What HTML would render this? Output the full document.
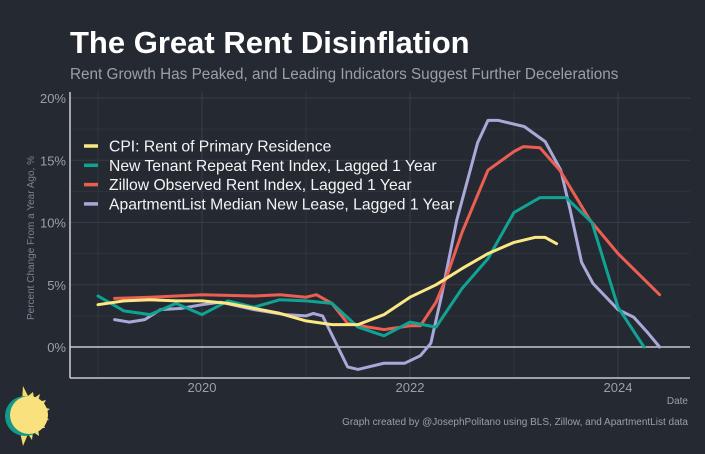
<!DOCTYPE html>
<html><head><meta charset="utf-8"><style>
body{margin:0;background:#252a32;}
svg{display:block;font-family:"Liberation Sans",sans-serif;}
</style></head><body>
<svg id="chart" width="705" height="454" viewBox="0 0 705 454">
<rect width="705" height="454" fill="#252a32"/>
<text x="70" y="53" font-size="31" font-weight="bold" fill="#ffffff">The Great Rent Disinflation</text>
<text x="70" y="79" font-size="15.3" fill="#9aa0a8">Rent Growth Has Peaked, and Leading Indicators Suggest Further Decelerations</text>
<g id="grid"></g>
<g id="axes"></g>
<g id="series"></g>
<g id="legend"></g>
<text x="34" y="238" font-size="10" fill="#7d838c" transform="rotate(-90 34 238)" text-anchor="middle">Percent Change From a Year Ago, %</text>
<text x="688" y="404" font-size="10" fill="#9aa0a8" text-anchor="end">Date</text>
<text x="688" y="425" font-size="10" fill="#9aa0a8" text-anchor="end">Graph created by @JosephPolitano using BLS, Zillow, and ApartmentList data</text>
<g>
<polygon points="23,386 28,396 33,392 34,398 40,394 38,402 46,400 42,407 50,409 43,414 49,420 42,421 45,428 38,428 39,436 33,432 32,440 28,434 23,446 20,432" fill="#f2dc6a"/>
<circle cx="25" cy="416" r="20" fill="#13988a"/>
<circle cx="29" cy="415" r="19" fill="#f9e27e"/>
</g>
</svg>
<script>
const yTicks=[0,5,10,15,20];
const yLabels=["0%","5%","10%","15%","20%"];
const xTicks=[2020,2022,2024];
const xLabels=["2020","2022","2024"];
const names=["CPI: Rent of Primary Residence","New Tenant Repeat Rent Index, Lagged 1 Year","Zillow Observed Rent Index, Lagged 1 Year","ApartmentList Median New Lease, Lagged 1 Year"];
const colors=["#fbe884","#10a393","#ec5d52","#aaa8d8"];
const cpiDates=[2019.0,2019.25,2019.5,2019.75,2020.0,2020.25,2020.5,2020.75,2021.0,2021.25,2021.5,2021.75,2022.0,2022.25,2022.5,2022.75,2023.0,2023.2,2023.3,2023.41];
const cpiVals=[3.4,3.7,3.8,3.7,3.7,3.5,3.1,2.7,2.1,1.8,1.8,2.6,4.0,5.0,6.3,7.5,8.4,8.8,8.8,8.3];
const ntrrDates=[2019.0,2019.25,2019.5,2019.75,2020.0,2020.25,2020.5,2020.75,2021.0,2021.25,2021.5,2021.75,2022.0,2022.25,2022.5,2022.75,2023.0,2023.25,2023.5,2023.75,2024.0,2024.25];
const ntrrVals=[4.1,2.9,2.6,3.5,2.6,3.7,3.2,3.8,3.7,3.5,1.6,0.9,2.0,1.6,4.7,7.1,10.8,12.0,12.0,10.0,3.2,0.0];
const zillowDates=[2019.16,2019.5,2020.0,2020.5,2020.75,2021.0,2021.1,2021.25,2021.4,2021.6,2021.75,2022.0,2022.1,2022.25,2022.35,2022.5,2022.75,2023.0,2023.09,2023.25,2023.44,2023.73,2024.0,2024.4];
const zillowVals=[3.9,4.0,4.2,4.1,4.2,4.0,4.2,3.5,1.9,1.6,1.4,1.7,1.7,3.6,5.6,9.2,14.2,15.7,16.1,16.0,14.2,10.2,7.5,4.2];
const aptDates=[2019.16,2019.3,2019.45,2019.6,2019.8,2020.0,2020.18,2020.5,2020.8,2021.0,2021.07,2021.16,2021.4,2021.5,2021.75,2021.95,2022.1,2022.2,2022.3,2022.45,2022.65,2022.75,2022.85,2023.1,2023.3,2023.45,2023.54,2023.65,2023.76,2024.0,2024.15,2024.29,2024.4];
const aptVals=[2.2,2.0,2.2,3.0,3.1,3.4,3.6,3.0,2.6,2.5,2.7,2.5,-1.6,-1.8,-1.3,-1.3,-0.7,0.3,4.0,10.2,16.4,18.2,18.2,17.7,16.5,14.2,11.0,6.8,5.1,3.0,2.4,1.1,0.0];
const NS="http://www.w3.org/2000/svg";
const X=y=>202+(y-2020)*104;
const Y=v=>347-v*12.45;
function mk(tag,attrs,parent){const e=document.createElementNS(NS,tag);for(const k in attrs)e.setAttribute(k,attrs[k]);parent.appendChild(e);return e;}
const grid=document.getElementById('grid'),axes=document.getElementById('axes'),ser=document.getElementById('series'),leg=document.getElementById('legend');
for(let v=-2.5;v<=20;v+=2.5){if(v===0)continue;const l=mk('line',{x1:70,x2:690,y1:Y(v),y2:Y(v),stroke:v%5===0?'#363c45':'#2f343d','stroke-width':1},grid);

}
for(let yr=2019;yr<=2024;yr++){const l=mk('line',{x1:X(yr),x2:X(yr),y1:92,y2:378,stroke:yr%2===0?'#363c45':'#2f343d','stroke-width':1},grid);

}
const zl=mk('line',{x1:70,x2:690,y1:Y(0),y2:Y(0),stroke:'#e8e8ee','stroke-width':1.3},axes);


const ya=mk('line',{x1:70,x2:70,y1:92,y2:378,stroke:'#e8e8ee','stroke-width':1.3},axes);


const xa=mk('line',{x1:70,x2:690,y1:378,y2:378,stroke:'#e8e8ee','stroke-width':1.3},axes);


yTicks.forEach((v,i)=>{const t=mk('text',{x:66,y:Y(v)+5,'font-size':13,fill:'#9aa0a8','text-anchor':'end'},axes);t.textContent=yLabels[i];

});
xTicks.forEach((v,i)=>{const t=mk('text',{x:X(v),y:392,'font-size':13,fill:'#9aa0a8','text-anchor':'middle'},axes);t.textContent=xLabels[i];

});
const sets=[[cpiDates,cpiVals],[ntrrDates,ntrrVals],[zillowDates,zillowVals],[aptDates,aptVals]];
const snames=['cpi-line','ntrr-line','zillow-line','apartmentlist-line'];
[3,2,1,0].forEach(i=>{const [d,v]=sets[i];const pts=d.map((x,j)=>X(x).toFixed(1)+','+Y(v[j]).toFixed(1)).join(' ');
const p=mk('polyline',{points:pts,fill:'none',stroke:colors[i],'stroke-width':3,'stroke-linejoin':'round','stroke-linecap':'round'},ser);

});
names.forEach((n,i)=>{const y=146+i*19.3;
const g=mk('g',{},leg);


mk('line',{x1:84,x2:98,y1:y,y2:y,stroke:colors[i],'stroke-width':3.5},g);
const t=mk('text',{x:109,y:y+5.5,'font-size':15.7,fill:'#f4f4f4'},g);t.textContent=n;});
</script>
</body></html>
